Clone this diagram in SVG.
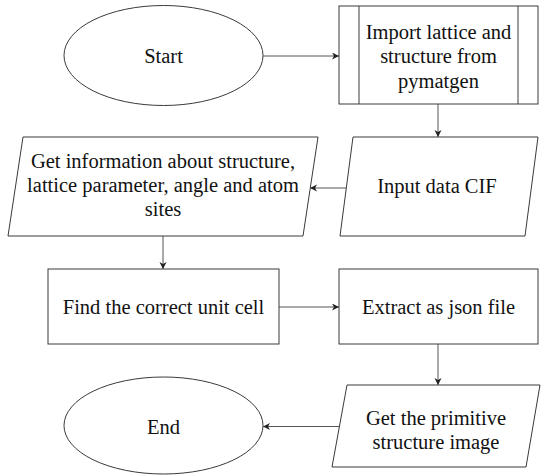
<svg xmlns="http://www.w3.org/2000/svg" width="541" height="475" viewBox="0 0 541 475">
  <style>
    .shape { fill: #ffffff; stroke: #3a3a3a; stroke-width: 1; }
    .edge { fill: none; stroke: #555555; stroke-width: 1; marker-end: url(#arrow); }
    text { font-family: "Liberation Serif", "Times New Roman", serif; font-size: 20.5px; fill: #111111; text-anchor: middle; }
  </style>
  <defs>
    <marker id="arrow" markerUnits="userSpaceOnUse" markerWidth="8" markerHeight="8" refX="7" refY="3.5" orient="auto">
      <path d="M0,0 L7,3.5 L0,7 L2,3.5 Z" fill="#222222"/>
    </marker>
  </defs>
  <rect width="541" height="475" fill="#ffffff"/>

  <!-- Connectors -->
  <g id="connectors">
    <line class="edge" x1="263" y1="56" x2="339" y2="56"/>
    <line class="edge" x1="438" y1="104" x2="438" y2="137"/>
    <line class="edge" x1="346" y1="188" x2="310" y2="188"/>
    <line class="edge" x1="163" y1="236" x2="163" y2="269"/>
    <line class="edge" x1="279" y1="307" x2="339" y2="307"/>
    <line class="edge" x1="438" y1="344" x2="438" y2="385"/>
    <line class="edge" x1="339.5" y1="426.5" x2="263" y2="426.5"/>
  </g>

  <!-- Terminator: start -->
  <g id="start">
    <ellipse class="shape" cx="163.5" cy="55.5" rx="99.5" ry="50"/>
    <text x="163.5" y="63">Start</text>
  </g>

  <!-- Predefined process -->
  <g id="import">
    <rect class="shape" x="339" y="6" width="199" height="98"/>
    <line class="shape" x1="359" y1="6" x2="359" y2="104"/>
    <line class="shape" x1="518" y1="6" x2="518" y2="104"/>
    <text x="438.5" y="38.5">Import lattice and</text>
    <text x="438.5" y="63">structure from</text>
    <text x="438.5" y="87.5">pymatgen</text>
  </g>

  <!-- Data input -->
  <g id="input-cif">
    <polygon class="shape" points="353,137 538,137 525,236 340,236"/>
    <text x="437" y="192.5">Input data CIF</text>
  </g>

  <g id="get-info">
    <polygon class="shape" points="23,137 318,137 303,236 8,236"/>
    <text x="163" y="168">Get information about structure,</text>
    <text x="163" y="192">lattice parameter, angle and atom</text>
    <text x="163" y="216">sites</text>
  </g>

  <g id="find-cell">
    <rect class="shape" x="48" y="269" width="231" height="75"/>
    <text x="163.5" y="314">Find the correct unit cell</text>
  </g>

  <g id="extract-json">
    <rect class="shape" x="339" y="269" width="199" height="75"/>
    <text x="438.5" y="314">Extract as json file</text>
  </g>

  <g id="primitive-image">
    <polygon class="shape" points="347,385 540,385 526,467 332,467"/>
    <text x="436" y="424.5">Get the primitive</text>
    <text x="436" y="449">structure image</text>
  </g>

  <!-- Terminator: end -->
  <g id="end">
    <ellipse class="shape" cx="163.5" cy="425.5" rx="99.5" ry="48.5"/>
    <text x="163.5" y="434">End</text>
  </g>
</svg>
